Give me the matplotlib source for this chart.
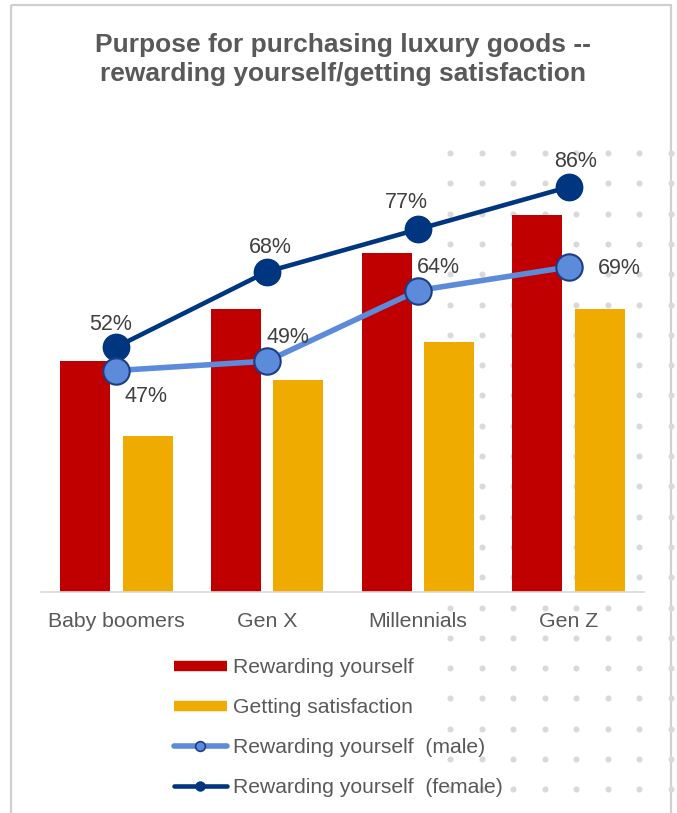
import numpy as np
import matplotlib
matplotlib.use("Agg")
import matplotlib.pyplot as plt
from matplotlib.lines import Line2D
from matplotlib.patches import Rectangle

# ---------------- data ----------------
categories = ["Baby boomers", "Gen X", "Millennials", "Gen Z"]
rewarding = [49, 60, 72, 80]            # bars (red)
satisfaction = [33, 45, 53, 60]         # bars (gold)
male = [47, 49, 64, 69]                 # line (light blue)
female = [52, 68, 77, 86]               # line (navy)
title_lines = ["Purpose for purchasing luxury goods --",
               "rewarding yourself/getting satisfaction"]
legend_labels = ["Rewarding yourself", "Getting satisfaction",
                 "Rewarding yourself  (male)", "Rewarding yourself  (female)"]

# ---------------- styles ----------------
RED = "#C00000"
GOLD = "#F0AB00"
LBLUE = "#5B8BDA"
NAVY = "#003580"
TXT = "#595959"
LBL = "#404040"
plt.rcParams["font.family"] = ["Liberation Sans", "DejaVu Sans"]

W, H = 677, 813
fig = plt.figure(figsize=(W / 100, H / 100), dpi=100)
fig.patch.set_facecolor("white")

# background: frame + dotted pattern (decoration)
bg = fig.add_axes([0, 0, 1, 1], zorder=0)
bg.set_xlim(0, W)
bg.set_ylim(H, 0)
bg.axis("off")
bg.add_patch(Rectangle((11, 5), 660, 830, fill=False, ec="#D0D0D0", lw=1.6))
dx = np.arange(450, 675, 31.5)
dy = np.arange(153, 815, 30.3)
gx, gy = np.meshgrid(dx, dy)
bg.scatter(gx.ravel(), gy.ravel(), s=19, color="#D9D9D9", lw=0)

# main axes
base_px, px_per = 591.7, 4.706
ax = fig.add_axes([41 / W, (H - base_px) / H, 603 / W, 100 * px_per / H], zorder=1)
ax.patch.set_alpha(0)
ax.set_xlim(-0.5, 3.5)
ax.set_ylim(0, 100)

x = np.arange(len(categories))
off, bw = 0.207, 0.332
ax.bar(x - off, rewarding, bw, color=RED, zorder=2)
ax.bar(x + off, satisfaction, bw, color=GOLD, zorder=2)

ax.plot(x, female, color=NAVY, lw=3.3, marker="o", ms=19, mfc=NAVY, mec=NAVY, zorder=3)
ax.plot(x, male, color=LBLUE, lw=4.0, marker="o", ms=19, mfc=LBLUE, mec="#1F3D85",
        mew=1.5, zorder=4)

# data labels (offsets in pixels)
f_off = [(-6, 22), (3, 24), (-11, 27), (7, 25)]
m_off = [(30, -26), (21, 24), (20, 23), (51, -2)]
for xi, v, o in zip(x, female, f_off):
    ax.annotate(f"{v}%", (xi, v), xytext=(o[0] * 0.72, o[1] * 0.72),
                textcoords="offset points", ha="center", va="center",
                fontsize=15.5, color=LBL, zorder=5)
for xi, v, o in zip(x, male, m_off):
    ax.annotate(f"{v}%", (xi, v), xytext=(o[0] * 0.72, o[1] * 0.72),
                textcoords="offset points", ha="center", va="center",
                fontsize=15.5, color=LBL, zorder=5)

for s in ["top", "left", "right"]:
    ax.spines[s].set_visible(False)
ax.spines["bottom"].set_color("#D9D9D9")
ax.spines["bottom"].set_linewidth(1.2)
ax.set_yticks([])
ax.set_xticks(x)
ax.set_xticklabels(categories, fontsize=15.3, color=TXT)
ax.tick_params(axis="x", length=0, pad=14.5)

# title
fig.text(343 / W, 1 - 52 / H, title_lines[0], ha="center", va="baseline",
         fontsize=19, fontweight="bold", color=TXT)
fig.text(343 / W, 1 - 81 / H, title_lines[1], ha="center", va="baseline",
         fontsize=19, fontweight="bold", color=TXT)

# legend
handles = [
    Line2D([], [], color=RED, lw=7.5, solid_capstyle="butt"),
    Line2D([], [], color=GOLD, lw=7.5, solid_capstyle="butt"),
    Line2D([], [], color=LBLUE, lw=4.0, marker="o", ms=7, mfc=LBLUE, mec="#1F3D85",
           mew=1.2, solid_capstyle="round"),
    Line2D([], [], color=NAVY, lw=3.3, marker="o", ms=6.5, mfc=NAVY, mec=NAVY,
           solid_capstyle="round"),
]
leg = fig.legend(handles, legend_labels, loc="upper left",
                 bbox_to_anchor=(174 / W, 1 - 658 / H), frameon=False,
                 fontsize=15.2, labelcolor=TXT, handlelength=2.5,
                 handletextpad=0.3, labelspacing=1.0, borderpad=0,
                 borderaxespad=0)

fig.savefig("out.png", dpi=100, facecolor="white")
